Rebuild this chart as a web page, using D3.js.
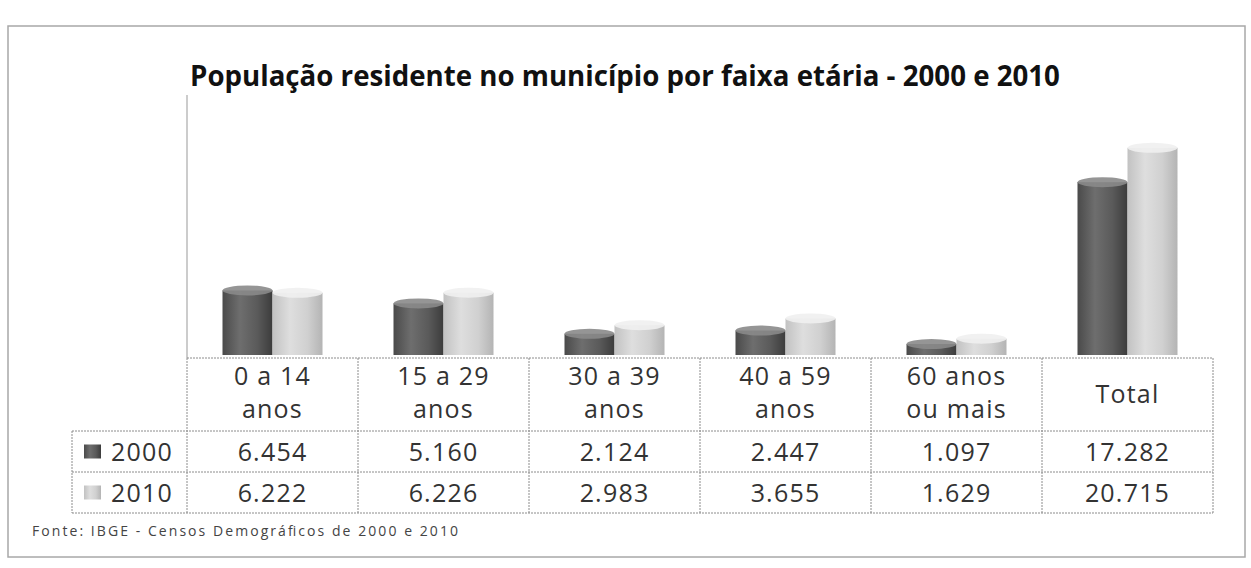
<!DOCTYPE html>
<html>
<head>
<meta charset="utf-8">
<script src="https://cdn.jsdelivr.net/npm/d3@7"></script>
<style>
  body { margin: 0; background: #fff; }
  svg { display: block; }
</style>
</head>
<body>
<svg id="grafico"></svg>
<script>
// dati del grafico
var categorie = ["0 a 14 anos", "15 a 29 anos", "30 a 39 anos", "40 a 59 anos", "60 anos ou mais", "Total"];
var righeIntestazione = [["0 a 14", "anos"], ["15 a 29", "anos"], ["30 a 39", "anos"], ["40 a 59", "anos"], ["60 anos", "ou mais"], ["Total"]];
var serie = ["2000", "2010"];
var valori2000 = [6454, 5160, 2124, 2447, 1097, 17282];
var valori2010 = [6222, 6226, 2983, 3655, 1629, 20715];
var maxAsse = 25000;

const W = 1251, H = 568;
const svg = d3.select("#grafico")
    .attr("width", W)
    .attr("height", H);

const fonte = "'Open Sans', 'Noto Sans', sans-serif";

// formato brasileiro 6.454
const br = d3.formatLocale({ decimal: ",", thousands: ".", grouping: [3], currency: ["R$", ""] });
const fmt = br.format(",d");

// gradienti per i cilindri
const defs = svg.append("defs");
function gradiente(id, stops) {
    var g = defs.append("linearGradient").attr("id", id)
        .attr("x1", "0%").attr("x2", "100%").attr("y1", "0%").attr("y2", "0%");
    stops.forEach(function (s) {
        g.append("stop").attr("offset", s[0]).attr("stop-color", s[1]);
    });
}
gradiente("g2000", [["0%", "#4a4a4a"], ["35%", "#6e6e6e"], ["70%", "#5a5a5a"], ["100%", "#3c3c3c"]]);
gradiente("g2010", [["0%", "#c2c2c2"], ["35%", "#dedede"], ["70%", "#d0d0d0"], ["100%", "#b4b4b4"]]);
var colori = { "2000": "url(#g2000)", "2010": "url(#g2010)" };
var coloriTop = { "2000": "#8a8a8a", "2010": "#f0f0f0" };

// bordo esterno
svg.append("rect")
    .attr("x", 8).attr("y", 26)
    .attr("width", 1237).attr("height", 531)
    .attr("fill", "none")
    .attr("stroke", "#a8a8a8")
    .attr("stroke-width", 1.5);

// titolo
const titolo = svg.append("text")
    .attr("x", 625).attr("y", 86)
    .attr("text-anchor", "middle")
    .attr("font-family", fonte)
    .attr("font-weight", "bold")
    .attr("font-size", 25)
    .attr("fill", "#111")
    .text("População residente no município por faixa etária - 2000 e 2010");
var lung = titolo.node().getComputedTextLength();
titolo.attr("font-size", 25 * 870 / lung);

// scale
const xSx = 187, xDx = 1213;
const yBase = 355, yCima = 105;
const x = d3.scaleBand().domain(categorie).range([xSx, xDx]);
const xs = d3.scaleBand().domain(serie).range([0, 100]);
const y = d3.scaleLinear().domain([0, maxAsse]).range([yBase, yCima]);

// asse verticale (parete)
svg.append("line")
    .attr("x1", xSx).attr("x2", xSx)
    .attr("y1", 95).attr("y2", yBase + 3)
    .attr("stroke", "#999")
    .attr("stroke-width", 1);

// barre cilindriche
var dati = [];
categorie.forEach(function (c, i) {
    dati.push({ cat: c, s: "2000", v: valori2000[i] });
    dati.push({ cat: c, s: "2010", v: valori2010[i] });
});

const barre = svg.append("g");
dati.forEach(function (d) {
    var bx = x(d.cat) + (x.bandwidth() - 100) / 2 + xs(d.s);
    var bw = xs.bandwidth();
    barre.append("rect")
        .attr("x", bx).attr("y", y(d.v))
        .attr("width", bw).attr("height", yBase - y(d.v))
        .attr("fill", colori[d.s]);
    barre.append("ellipse")
        .attr("cx", bx + bw / 2).attr("cy", y(d.v))
        .attr("rx", bw / 2).attr("ry", 5)
        .attr("fill", coloriTop[d.s])
        .attr("opacity", 0.9);
});

// tabella dati
const tIntTop = 358, tIntBot = 431, tR1 = 472, tR2 = 513;
const legSx = 72;
const linea = function (x1, y1, x2, y2) {
    svg.append("line")
        .attr("x1", x1).attr("y1", y1).attr("x2", x2).attr("y2", y2)
        .attr("stroke", "#8c8c8c")
        .attr("stroke-width", 1)
        .attr("stroke-dasharray", "2,1");
};
linea(xSx, tIntTop, xDx, tIntTop);
linea(legSx, tIntBot, xDx, tIntBot);
linea(legSx, tR1, xDx, tR1);
linea(legSx, tR2, xDx, tR2);
linea(legSx, tIntBot, legSx, tR2);
categorie.forEach(function (c) {
    linea(x(c), tIntTop, x(c), tR2);
});
linea(xDx, tIntTop, xDx, tR2);

// intestazioni
categorie.forEach(function (c, i) {
    var cx = x(c) + x.bandwidth() / 2;
    var righe = righeIntestazione[i];
    righe.forEach(function (r, j) {
        var yy = righe.length == 1 ? tIntTop + 45 : tIntTop + 27 + j * 33;
        svg.append("text")
            .attr("x", cx).attr("y", yy)
            .attr("text-anchor", "middle")
            .attr("font-family", fonte)
            .attr("font-size", 25)
            .attr("letter-spacing", 1.2)
            .attr("fill", "#333")
            .text(r);
    });
});

// righe valori
var righeDati = [
    { s: "2000", v: valori2000, y0: tIntBot, y1: tR1 },
    { s: "2010", v: valori2010, y0: tR1, y1: tR2 }
];
righeDati.forEach(function (r) {
    var yy = (r.y0 + r.y1) / 2 + 9;
    // legenda
    svg.append("rect")
        .attr("x", 84).attr("y", yy - 16)
        .attr("width", 17).attr("height", 14)
        .attr("fill", colori[r.s]);
    svg.append("text")
        .attr("x", 111).attr("y", yy)
        .attr("font-family", fonte)
        .attr("font-size", 25)
        .attr("letter-spacing", 1.2)
        .attr("fill", "#333")
        .text(r.s);
    r.v.forEach(function (v, i) {
        svg.append("text")
            .attr("x", x(categorie[i]) + x.bandwidth() / 2).attr("y", yy)
            .attr("text-anchor", "middle")
            .attr("font-family", fonte)
            .attr("font-size", 25)
            .attr("letter-spacing", 1.2)
            .attr("fill", "#333")
            .text(fmt(v));
    });
});

// fonte
svg.append("text")
    .attr("x", 32).attr("y", 536)
    .attr("font-family", fonte)
    .attr("font-size", 14)
    .attr("textLength", 426)
    .attr("lengthAdjust", "spacing")
    .attr("fill", "#444")
    .text("Fonte: IBGE - Censos Demográficos de 2000 e 2010");
</script>
</body>
</html>
